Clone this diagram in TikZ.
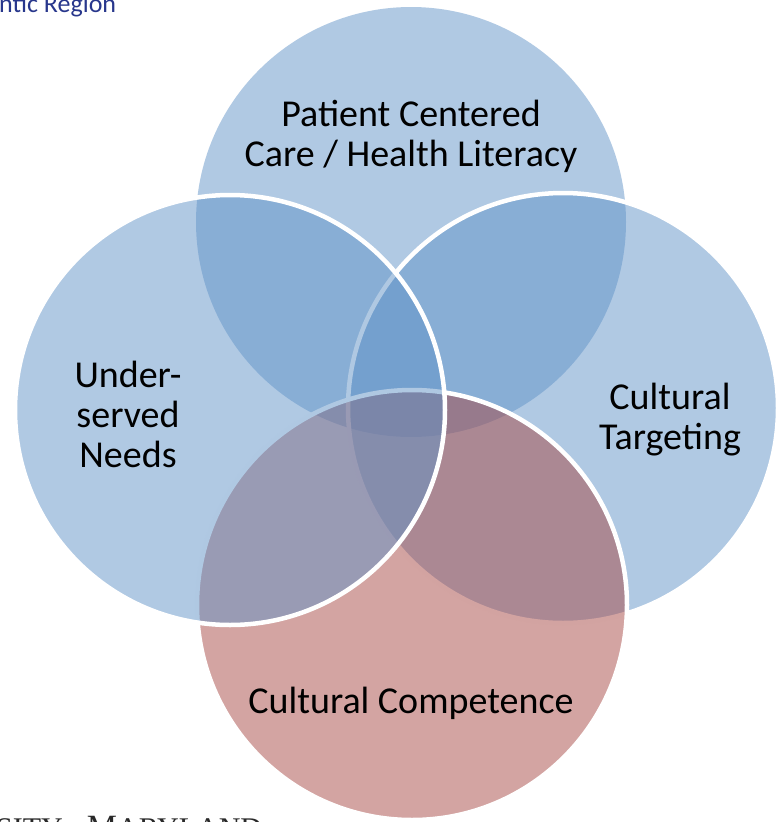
\documentclass[tikz,border=0pt]{standalone}
\usepackage{fontspec}
\setmainfont{Carlito}
\newfontfamily\logofont{Liberation Serif}
\usetikzlibrary{positioning}

\definecolor{vennblue}{RGB}{97,147,199}
\definecolor{vennred}{RGB}{167,73,69}
\definecolor{regionblue}{RGB}{40,55,140}
\definecolor{logogray}{RGB}{40,40,40}

\begin{document}
\begin{tikzpicture}[x=1pt, y=-1pt,
    venn/.style={circle, minimum size=430pt, inner sep=0pt, fill opacity=0.5},
    rim/.style={draw=white, line width=4.5pt},
    caption/.style={align=center, inner sep=0pt, font=\fontsize{38}{40}\selectfont}]
  \useasboundingbox (0,0) rectangle (778,822);
  \clip (0,0) rectangle (778,822);
  % circles, back to front
  \node[venn, fill=vennblue] (care) at (411,222) {};
  \node[venn, rim, fill=vennblue] (targeting) at (563,408) {};
  \node[venn, rim, fill=vennred] (competence) at (412,605) {};
  \node[venn, rim, fill=vennblue] (needs) at (230,410) {};
  % labels
  \node[caption] (careText) at (411,136) {Patient Centered\\Care / Health Literacy};
  \node[caption] (needsText) at (128,414) {Under-\\served\\Needs};
  \node[caption] (targetingText) at (670,420) {Cultural\\Targeting};
  \node[caption, anchor=base] (competenceText) at (411,713) {Cultural Competence};
  % cut-off page texts
  \node[anchor=base west, inner sep=0pt, text=regionblue,
    font=\fontsize{26}{26}\selectfont] (region) at (-1,12) {ntic Region};
  \node[anchor=base west, inner sep=0pt, text=logogray,
    font=\logofont\fontsize{30}{30}\selectfont] (umd) at (-4,838)
    {SITY\,{\itshape\fontsize{18}{18}\selectfont of}\,{\fontsize{34}{34}\selectfont M}ARYLAND};
\end{tikzpicture}
\end{document}
